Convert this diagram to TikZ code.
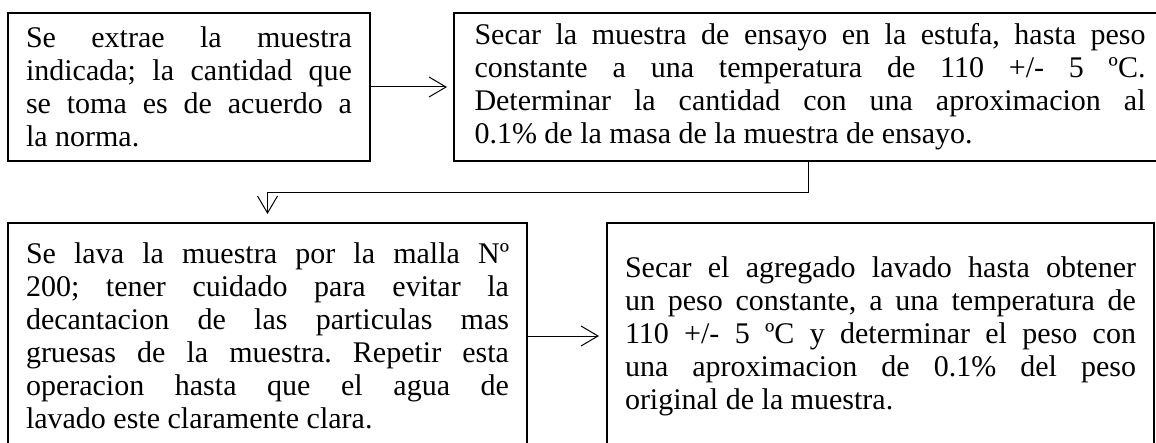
\documentclass[tikz,border=0pt]{standalone}
\usepackage{fontspec}
\setmainfont{Liberation Serif}
\usetikzlibrary{arrows.meta}
\hyphenpenalty=10000
\exhyphenpenalty=10000
\tolerance=10000
\frenchspacing

\begin{document}
\begin{tikzpicture}[x=0.5pt, y=-0.5pt,
         paso/.style={rectangle, draw, line width=1pt,
                anchor=north west, inner xsep=9pt, inner ysep=0pt,
                align=justify,
                font=\fontsize{15pt}{16.5pt}\selectfont},
         flecha/.style={line width=0.5pt, -{Straight Barb[length=8.5pt,width=10pt]}},
         ]
\useasboundingbox (0,0) rectangle (1156,443);
\node [paso, minimum width=181pt, minimum height=74pt, text width=163pt] (extraer) at (7,12)
{Se extrae la muestra\linebreak indicada; la cantidad que\linebreak se toma es de acuerdo a\linebreak la norma.};
\node [paso, minimum width=356pt, minimum height=74pt, text width=335.5pt] (secar) at (453,12)
{Secar la muestra de ensayo en la estufa, hasta peso\linebreak constante a una temperatura de 110 +/- 5 ºC.\linebreak Determinar la cantidad con una aproximacion al\linebreak 0.1\% de la masa de la muestra de ensayo.};
\node [paso, minimum width=259.5pt, minimum height=113pt, text width=241.5pt] (lavar) at (7,222)
{Se lava la muestra por la malla Nº\linebreak 200; tener cuidado para evitar la\linebreak decantacion de las particulas mas\linebreak gruesas de la muestra. Repetir esta\linebreak operacion hasta que el agua de\linebreak lavado este claramente clara.};
\node [paso, minimum width=273.5pt, minimum height=113pt, text width=255.5pt] (secado) at (606,222)
{Secar el agregado lavado hasta obtener\linebreak un peso constante, a una temperatura de\linebreak 110 +/- 5 ºC y determinar el peso con\linebreak una aproximacion de 0.1\% del peso\linebreak original de la muestra.};

\draw [flecha, shorten >=3pt] (extraer.east) -- (secar.west);
\draw [flecha, shorten >=4pt] ([xshift=-1pt]secar.south) -- ++(0,31) -| (lavar.north);
\draw [flecha, shorten >=3.5pt] (lavar.east) -- (secado.west);
\end{tikzpicture}
\end{document}
